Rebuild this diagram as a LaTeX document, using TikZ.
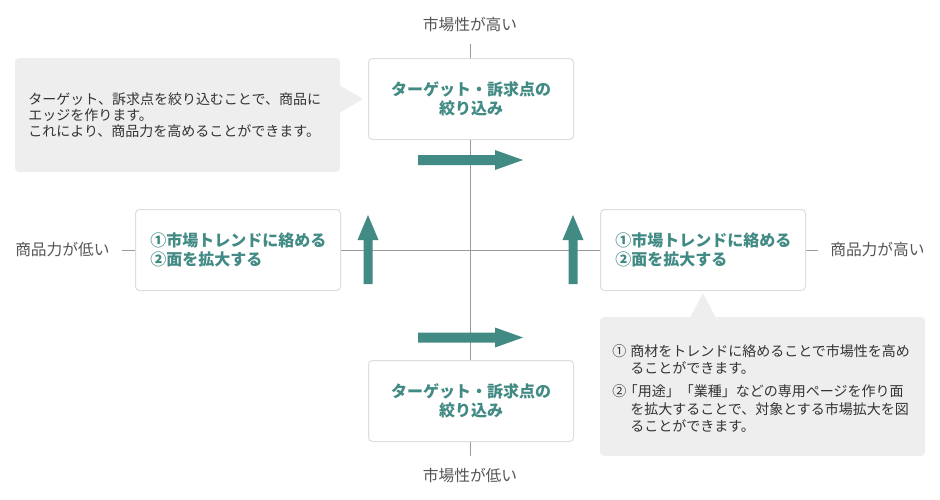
\documentclass[tikz,border=0pt]{standalone}
\usepackage{fontspec}
\newfontfamily\jp{Noto Sans CJK JP}
\definecolor{teal1}{HTML}{428A84}
\definecolor{calloutgray}{HTML}{EEEEEE}
\definecolor{boxborder}{HTML}{DDDDDD}
\definecolor{axisgray}{HTML}{9A9A9A}
\definecolor{labelgray}{HTML}{555555}
\definecolor{bodytext}{HTML}{333333}
\begin{document}
\begin{tikzpicture}[x=0.75pt,y=-0.75pt,
  axislabel/.style={font=\jp\fontsize{11.8}{13}\selectfont, text=labelgray, inner sep=0pt},
  whitebox/.style={draw=boxborder, line width=0.75pt, fill=white, rounded corners=3pt,
     minimum width=153.75pt, minimum height=60.75pt, inner sep=0pt},
  boxtext/.style={font=\jp\bfseries\fontsize{12}{14.25}\selectfont, text=teal1, inner sep=0pt},
  callout/.style={fill=calloutgray, rounded corners=3pt},
  callouttext/.style={font=\jp\fontsize{10.5}{12}\selectfont, text=bodytext, inner sep=0pt, align=left},
  axis/.style={draw=axisgray, line width=0.75pt},
  bigarrow/.style={fill=teal1}
]
\useasboundingbox (0,0) rectangle (940,500);
% axis labels
\node[axislabel] (top) at (470,25) {市場性が高い};
\node[axislabel] (bottom) at (470,476) {市場性が低い};
\node[axislabel, anchor=west] (left) at (15,250) {商品力が低い};
\node[axislabel, anchor=west] (right) at (830,250) {商品力が高い};
\coordinate (vtop) at (470,44);
\coordinate (vbot) at (470,456);
\coordinate (hleft) at (122,250);
\coordinate (hright) at (818,250);
\draw[axis] (vtop) -- (vbot);
\draw[axis] (hleft) -- (hright);

% callouts
\fill[callout] (15,58) rectangle (340,172);
\fill[calloutgray] (339,85) -- (363,99) -- (339,113) -- cycle;
\node[callouttext, anchor=north west] (c1) at (28,92)
  {ターゲット、訴求点を絞り込むことで、商品に\\エッジを作ります。\\これにより、商品力を高めることができます。};

\fill[callout] (600,317) rectangle (925,456);
\fill[calloutgray] (690,318) -- (703,293) -- (716,318) -- cycle;
\node[callouttext, anchor=north west, font=\jp\fontsize{10.5}{13.1}\selectfont] (c2) at (612,344)
  {\begin{tabular}{@{}l@{\hspace{3pt}}l@{}}
   ① & 商材をトレンドに絡めることで市場性を高め\\
     & ることができます。\\[4pt]
   ② & \kern-0.45em「用途」「業種」などの専用ページを作り面\\
     & を拡大することで、対象とする市場拡大を図\\
     & ることができます。
   \end{tabular}};

% boxes
\node[whitebox, anchor=north west] (tbox) at (368,58) {};
\node[boxtext, align=center] at (tbox.center) {ターゲット・訴求点の\\絞り込み};
\node[whitebox, anchor=north west] (bbox) at (368,360) {};
\node[boxtext, align=center] at (bbox.center) {ターゲット・訴求点の\\絞り込み};
\node[whitebox, anchor=north west] (lbox) at (135,209) {};
\node[boxtext, align=left, anchor=west] at ([xshift=11.25pt]lbox.west) {①市場トレンドに絡める\\②面を拡大する};
\node[whitebox, anchor=north west] (rbox) at (600,209) {};
\node[boxtext, align=left, anchor=west] at ([xshift=11.25pt]rbox.west) {①市場トレンドに絡める\\②面を拡大する};

% arrows
\fill[bigarrow] (418,155) -- (495,155) -- (495,150) -- (523,160) -- (495,170) -- (495,165) -- (418,165) -- cycle;
\fill[bigarrow] (418,332.5) -- (495,332.5) -- (495,327.5) -- (523,337.5) -- (495,347.5) -- (495,342.5) -- (418,342.5) -- cycle;
\fill[bigarrow] (363.5,284) -- (363.5,240) -- (357.5,240) -- (368,215) -- (378.5,240) -- (372.5,240) -- (372.5,284) -- cycle;
\fill[bigarrow] (568.5,284) -- (568.5,240) -- (562.5,240) -- (573,215) -- (583.5,240) -- (577.5,240) -- (577.5,284) -- cycle;
\end{tikzpicture}
\end{document}
